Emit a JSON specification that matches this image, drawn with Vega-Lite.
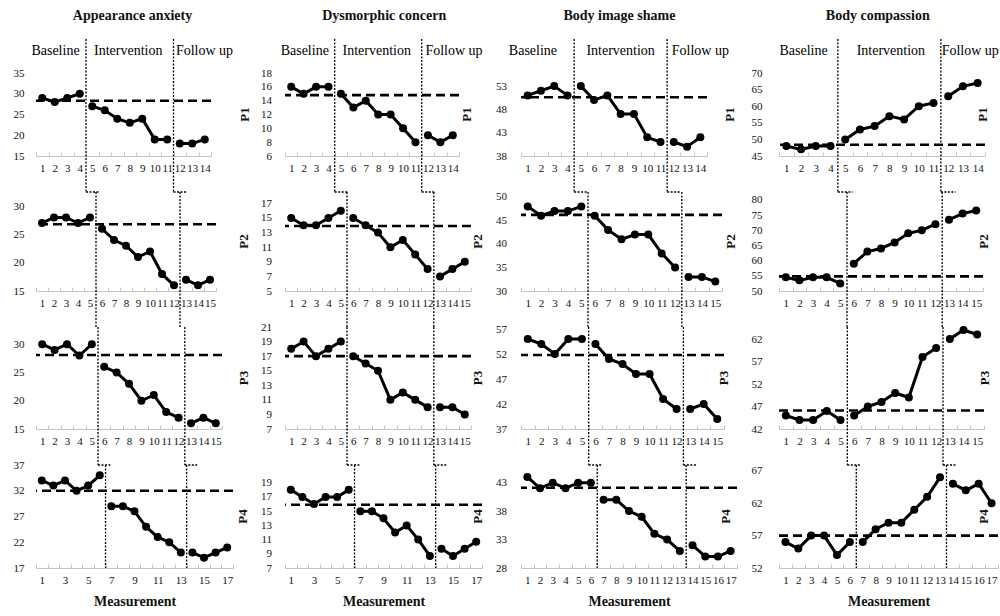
{
"$schema": "https://vega.github.io/schema/vega-lite/v6.json",
"padding": {"left": 13, "top": 9, "right": 0, "bottom": 0},
"datasets": {
"pts": [
{"m":"AA","p":"P1","x":1,"y":29,"ph":"B"},{"m":"AA","p":"P1","x":2,"y":28,"ph":"B"},{"m":"AA","p":"P1","x":3,"y":29,"ph":"B"},{"m":"AA","p":"P1","x":4,"y":30,"ph":"B"},
{"m":"AA","p":"P1","x":5,"y":27,"ph":"I"},{"m":"AA","p":"P1","x":6,"y":26,"ph":"I"},{"m":"AA","p":"P1","x":7,"y":24,"ph":"I"},{"m":"AA","p":"P1","x":8,"y":23,"ph":"I"},{"m":"AA","p":"P1","x":9,"y":24,"ph":"I"},{"m":"AA","p":"P1","x":10,"y":19,"ph":"I"},{"m":"AA","p":"P1","x":11,"y":19,"ph":"I"},
{"m":"AA","p":"P1","x":12,"y":18,"ph":"F"},{"m":"AA","p":"P1","x":13,"y":18,"ph":"F"},{"m":"AA","p":"P1","x":14,"y":19,"ph":"F"},
{"m":"AA","p":"P2","x":1,"y":27,"ph":"B"},{"m":"AA","p":"P2","x":2,"y":28,"ph":"B"},{"m":"AA","p":"P2","x":3,"y":28,"ph":"B"},{"m":"AA","p":"P2","x":4,"y":27,"ph":"B"},{"m":"AA","p":"P2","x":5,"y":28,"ph":"B"},
{"m":"AA","p":"P2","x":6,"y":26,"ph":"I"},{"m":"AA","p":"P2","x":7,"y":24,"ph":"I"},{"m":"AA","p":"P2","x":8,"y":23,"ph":"I"},{"m":"AA","p":"P2","x":9,"y":21,"ph":"I"},{"m":"AA","p":"P2","x":10,"y":22,"ph":"I"},{"m":"AA","p":"P2","x":11,"y":18,"ph":"I"},{"m":"AA","p":"P2","x":12,"y":16,"ph":"I"},
{"m":"AA","p":"P2","x":13,"y":17,"ph":"F"},{"m":"AA","p":"P2","x":14,"y":16,"ph":"F"},{"m":"AA","p":"P2","x":15,"y":17,"ph":"F"},
{"m":"AA","p":"P3","x":1,"y":30,"ph":"B"},{"m":"AA","p":"P3","x":2,"y":29,"ph":"B"},{"m":"AA","p":"P3","x":3,"y":30,"ph":"B"},{"m":"AA","p":"P3","x":4,"y":28,"ph":"B"},{"m":"AA","p":"P3","x":5,"y":30,"ph":"B"},
{"m":"AA","p":"P3","x":6,"y":26,"ph":"I"},{"m":"AA","p":"P3","x":7,"y":25,"ph":"I"},{"m":"AA","p":"P3","x":8,"y":23,"ph":"I"},{"m":"AA","p":"P3","x":9,"y":20,"ph":"I"},{"m":"AA","p":"P3","x":10,"y":21,"ph":"I"},{"m":"AA","p":"P3","x":11,"y":18,"ph":"I"},{"m":"AA","p":"P3","x":12,"y":17,"ph":"I"},
{"m":"AA","p":"P3","x":13,"y":16,"ph":"F"},{"m":"AA","p":"P3","x":14,"y":17,"ph":"F"},{"m":"AA","p":"P3","x":15,"y":16,"ph":"F"},
{"m":"AA","p":"P4","x":1,"y":34,"ph":"B"},{"m":"AA","p":"P4","x":2,"y":33,"ph":"B"},{"m":"AA","p":"P4","x":3,"y":34,"ph":"B"},{"m":"AA","p":"P4","x":4,"y":32,"ph":"B"},{"m":"AA","p":"P4","x":5,"y":33,"ph":"B"},{"m":"AA","p":"P4","x":6,"y":35,"ph":"B"},
{"m":"AA","p":"P4","x":7,"y":29,"ph":"I"},{"m":"AA","p":"P4","x":8,"y":29,"ph":"I"},{"m":"AA","p":"P4","x":9,"y":28,"ph":"I"},{"m":"AA","p":"P4","x":10,"y":25,"ph":"I"},{"m":"AA","p":"P4","x":11,"y":23,"ph":"I"},{"m":"AA","p":"P4","x":12,"y":22,"ph":"I"},{"m":"AA","p":"P4","x":13,"y":20,"ph":"I"},
{"m":"AA","p":"P4","x":14,"y":20,"ph":"F"},{"m":"AA","p":"P4","x":15,"y":19,"ph":"F"},{"m":"AA","p":"P4","x":16,"y":20,"ph":"F"},{"m":"AA","p":"P4","x":17,"y":21,"ph":"F"},
{"m":"DC","p":"P1","x":1,"y":16,"ph":"B"},{"m":"DC","p":"P1","x":2,"y":15,"ph":"B"},{"m":"DC","p":"P1","x":3,"y":16,"ph":"B"},{"m":"DC","p":"P1","x":4,"y":16,"ph":"B"},
{"m":"DC","p":"P1","x":5,"y":15,"ph":"I"},{"m":"DC","p":"P1","x":6,"y":13,"ph":"I"},{"m":"DC","p":"P1","x":7,"y":14,"ph":"I"},{"m":"DC","p":"P1","x":8,"y":12,"ph":"I"},{"m":"DC","p":"P1","x":9,"y":12,"ph":"I"},{"m":"DC","p":"P1","x":10,"y":10,"ph":"I"},{"m":"DC","p":"P1","x":11,"y":8,"ph":"I"},
{"m":"DC","p":"P1","x":12,"y":9,"ph":"F"},{"m":"DC","p":"P1","x":13,"y":8,"ph":"F"},{"m":"DC","p":"P1","x":14,"y":9,"ph":"F"},
{"m":"DC","p":"P2","x":1,"y":15,"ph":"B"},{"m":"DC","p":"P2","x":2,"y":14,"ph":"B"},{"m":"DC","p":"P2","x":3,"y":14,"ph":"B"},{"m":"DC","p":"P2","x":4,"y":15,"ph":"B"},{"m":"DC","p":"P2","x":5,"y":16,"ph":"B"},
{"m":"DC","p":"P2","x":6,"y":15,"ph":"I"},{"m":"DC","p":"P2","x":7,"y":14,"ph":"I"},{"m":"DC","p":"P2","x":8,"y":13,"ph":"I"},{"m":"DC","p":"P2","x":9,"y":11,"ph":"I"},{"m":"DC","p":"P2","x":10,"y":12,"ph":"I"},{"m":"DC","p":"P2","x":11,"y":10,"ph":"I"},{"m":"DC","p":"P2","x":12,"y":8,"ph":"I"},
{"m":"DC","p":"P2","x":13,"y":7,"ph":"F"},{"m":"DC","p":"P2","x":14,"y":8,"ph":"F"},{"m":"DC","p":"P2","x":15,"y":9,"ph":"F"},
{"m":"DC","p":"P3","x":1,"y":18,"ph":"B"},{"m":"DC","p":"P3","x":2,"y":19,"ph":"B"},{"m":"DC","p":"P3","x":3,"y":17,"ph":"B"},{"m":"DC","p":"P3","x":4,"y":18,"ph":"B"},{"m":"DC","p":"P3","x":5,"y":19,"ph":"B"},
{"m":"DC","p":"P3","x":6,"y":17,"ph":"I"},{"m":"DC","p":"P3","x":7,"y":16,"ph":"I"},{"m":"DC","p":"P3","x":8,"y":15,"ph":"I"},{"m":"DC","p":"P3","x":9,"y":11,"ph":"I"},{"m":"DC","p":"P3","x":10,"y":12,"ph":"I"},{"m":"DC","p":"P3","x":11,"y":11,"ph":"I"},{"m":"DC","p":"P3","x":12,"y":10,"ph":"I"},
{"m":"DC","p":"P3","x":13,"y":10,"ph":"F"},{"m":"DC","p":"P3","x":14,"y":10,"ph":"F"},{"m":"DC","p":"P3","x":15,"y":9,"ph":"F"},
{"m":"DC","p":"P4","x":1,"y":18,"ph":"B"},{"m":"DC","p":"P4","x":2,"y":17,"ph":"B"},{"m":"DC","p":"P4","x":3,"y":16,"ph":"B"},{"m":"DC","p":"P4","x":4,"y":17,"ph":"B"},{"m":"DC","p":"P4","x":5,"y":17,"ph":"B"},{"m":"DC","p":"P4","x":6,"y":18,"ph":"B"},
{"m":"DC","p":"P4","x":7,"y":15,"ph":"I"},{"m":"DC","p":"P4","x":8,"y":15,"ph":"I"},{"m":"DC","p":"P4","x":9,"y":14,"ph":"I"},{"m":"DC","p":"P4","x":10,"y":12,"ph":"I"},{"m":"DC","p":"P4","x":11,"y":13,"ph":"I"},{"m":"DC","p":"P4","x":12,"y":11,"ph":"I"},{"m":"DC","p":"P4","x":13,"y":8.7,"ph":"I"},
{"m":"DC","p":"P4","x":14,"y":9.7,"ph":"F"},{"m":"DC","p":"P4","x":15,"y":8.7,"ph":"F"},{"m":"DC","p":"P4","x":16,"y":9.7,"ph":"F"},{"m":"DC","p":"P4","x":17,"y":10.7,"ph":"F"},
{"m":"BS","p":"P1","x":1,"y":51,"ph":"B"},{"m":"BS","p":"P1","x":2,"y":52,"ph":"B"},{"m":"BS","p":"P1","x":3,"y":53,"ph":"B"},{"m":"BS","p":"P1","x":4,"y":51,"ph":"B"},
{"m":"BS","p":"P1","x":5,"y":53,"ph":"I"},{"m":"BS","p":"P1","x":6,"y":50,"ph":"I"},{"m":"BS","p":"P1","x":7,"y":51,"ph":"I"},{"m":"BS","p":"P1","x":8,"y":47,"ph":"I"},{"m":"BS","p":"P1","x":9,"y":47,"ph":"I"},{"m":"BS","p":"P1","x":10,"y":42,"ph":"I"},{"m":"BS","p":"P1","x":11,"y":41,"ph":"I"},
{"m":"BS","p":"P1","x":12,"y":41,"ph":"F"},{"m":"BS","p":"P1","x":13,"y":40,"ph":"F"},{"m":"BS","p":"P1","x":14,"y":42,"ph":"F"},
{"m":"BS","p":"P2","x":1,"y":48,"ph":"B"},{"m":"BS","p":"P2","x":2,"y":46,"ph":"B"},{"m":"BS","p":"P2","x":3,"y":47,"ph":"B"},{"m":"BS","p":"P2","x":4,"y":47,"ph":"B"},{"m":"BS","p":"P2","x":5,"y":48,"ph":"B"},
{"m":"BS","p":"P2","x":6,"y":46,"ph":"I"},{"m":"BS","p":"P2","x":7,"y":43,"ph":"I"},{"m":"BS","p":"P2","x":8,"y":41,"ph":"I"},{"m":"BS","p":"P2","x":9,"y":42,"ph":"I"},{"m":"BS","p":"P2","x":10,"y":42,"ph":"I"},{"m":"BS","p":"P2","x":11,"y":38,"ph":"I"},{"m":"BS","p":"P2","x":12,"y":35,"ph":"I"},
{"m":"BS","p":"P2","x":13,"y":33,"ph":"F"},{"m":"BS","p":"P2","x":14,"y":33,"ph":"F"},{"m":"BS","p":"P2","x":15,"y":32,"ph":"F"},
{"m":"BS","p":"P3","x":1,"y":55,"ph":"B"},{"m":"BS","p":"P3","x":2,"y":54,"ph":"B"},{"m":"BS","p":"P3","x":3,"y":52,"ph":"B"},{"m":"BS","p":"P3","x":4,"y":55,"ph":"B"},{"m":"BS","p":"P3","x":5,"y":55,"ph":"B"},
{"m":"BS","p":"P3","x":6,"y":54,"ph":"I"},{"m":"BS","p":"P3","x":7,"y":51,"ph":"I"},{"m":"BS","p":"P3","x":8,"y":50,"ph":"I"},{"m":"BS","p":"P3","x":9,"y":48,"ph":"I"},{"m":"BS","p":"P3","x":10,"y":48,"ph":"I"},{"m":"BS","p":"P3","x":11,"y":43,"ph":"I"},{"m":"BS","p":"P3","x":12,"y":41,"ph":"I"},
{"m":"BS","p":"P3","x":13,"y":41,"ph":"F"},{"m":"BS","p":"P3","x":14,"y":42,"ph":"F"},{"m":"BS","p":"P3","x":15,"y":39,"ph":"F"},
{"m":"BS","p":"P4","x":1,"y":44,"ph":"B"},{"m":"BS","p":"P4","x":2,"y":42,"ph":"B"},{"m":"BS","p":"P4","x":3,"y":43,"ph":"B"},{"m":"BS","p":"P4","x":4,"y":42,"ph":"B"},{"m":"BS","p":"P4","x":5,"y":43,"ph":"B"},{"m":"BS","p":"P4","x":6,"y":43,"ph":"B"},
{"m":"BS","p":"P4","x":7,"y":40,"ph":"I"},{"m":"BS","p":"P4","x":8,"y":40,"ph":"I"},{"m":"BS","p":"P4","x":9,"y":38,"ph":"I"},{"m":"BS","p":"P4","x":10,"y":37,"ph":"I"},{"m":"BS","p":"P4","x":11,"y":34,"ph":"I"},{"m":"BS","p":"P4","x":12,"y":33,"ph":"I"},{"m":"BS","p":"P4","x":13,"y":31,"ph":"I"},
{"m":"BS","p":"P4","x":14,"y":32,"ph":"F"},{"m":"BS","p":"P4","x":15,"y":30,"ph":"F"},{"m":"BS","p":"P4","x":16,"y":30,"ph":"F"},{"m":"BS","p":"P4","x":17,"y":31,"ph":"F"},
{"m":"BC","p":"P1","x":1,"y":48,"ph":"B"},{"m":"BC","p":"P1","x":2,"y":47,"ph":"B"},{"m":"BC","p":"P1","x":3,"y":48,"ph":"B"},{"m":"BC","p":"P1","x":4,"y":48,"ph":"B"},
{"m":"BC","p":"P1","x":5,"y":50,"ph":"I"},{"m":"BC","p":"P1","x":6,"y":53,"ph":"I"},{"m":"BC","p":"P1","x":7,"y":54,"ph":"I"},{"m":"BC","p":"P1","x":8,"y":57,"ph":"I"},{"m":"BC","p":"P1","x":9,"y":56,"ph":"I"},{"m":"BC","p":"P1","x":10,"y":60,"ph":"I"},{"m":"BC","p":"P1","x":11,"y":61,"ph":"I"},
{"m":"BC","p":"P1","x":12,"y":63,"ph":"F"},{"m":"BC","p":"P1","x":13,"y":66,"ph":"F"},{"m":"BC","p":"P1","x":14,"y":67,"ph":"F"},
{"m":"BC","p":"P2","x":1,"y":54.5,"ph":"B"},{"m":"BC","p":"P2","x":2,"y":53.5,"ph":"B"},{"m":"BC","p":"P2","x":3,"y":54.5,"ph":"B"},{"m":"BC","p":"P2","x":4,"y":54.5,"ph":"B"},{"m":"BC","p":"P2","x":5,"y":52.5,"ph":"B"},
{"m":"BC","p":"P2","x":6,"y":59,"ph":"I"},{"m":"BC","p":"P2","x":7,"y":63,"ph":"I"},{"m":"BC","p":"P2","x":8,"y":64,"ph":"I"},{"m":"BC","p":"P2","x":9,"y":66,"ph":"I"},{"m":"BC","p":"P2","x":10,"y":69,"ph":"I"},{"m":"BC","p":"P2","x":11,"y":70,"ph":"I"},{"m":"BC","p":"P2","x":12,"y":72,"ph":"I"},
{"m":"BC","p":"P2","x":13,"y":73.5,"ph":"F"},{"m":"BC","p":"P2","x":14,"y":75.5,"ph":"F"},{"m":"BC","p":"P2","x":15,"y":76.5,"ph":"F"},
{"m":"BC","p":"P3","x":1,"y":45,"ph":"B"},{"m":"BC","p":"P3","x":2,"y":44,"ph":"B"},{"m":"BC","p":"P3","x":3,"y":44,"ph":"B"},{"m":"BC","p":"P3","x":4,"y":46,"ph":"B"},{"m":"BC","p":"P3","x":5,"y":44,"ph":"B"},
{"m":"BC","p":"P3","x":6,"y":45,"ph":"I"},{"m":"BC","p":"P3","x":7,"y":47,"ph":"I"},{"m":"BC","p":"P3","x":8,"y":48,"ph":"I"},{"m":"BC","p":"P3","x":9,"y":50,"ph":"I"},{"m":"BC","p":"P3","x":10,"y":49,"ph":"I"},{"m":"BC","p":"P3","x":11,"y":58,"ph":"I"},{"m":"BC","p":"P3","x":12,"y":60,"ph":"I"},
{"m":"BC","p":"P3","x":13,"y":62,"ph":"F"},{"m":"BC","p":"P3","x":14,"y":64,"ph":"F"},{"m":"BC","p":"P3","x":15,"y":63,"ph":"F"},
{"m":"BC","p":"P4","x":1,"y":56,"ph":"B"},{"m":"BC","p":"P4","x":2,"y":55,"ph":"B"},{"m":"BC","p":"P4","x":3,"y":57,"ph":"B"},{"m":"BC","p":"P4","x":4,"y":57,"ph":"B"},{"m":"BC","p":"P4","x":5,"y":54,"ph":"B"},{"m":"BC","p":"P4","x":6,"y":56,"ph":"B"},
{"m":"BC","p":"P4","x":7,"y":56,"ph":"I"},{"m":"BC","p":"P4","x":8,"y":58,"ph":"I"},{"m":"BC","p":"P4","x":9,"y":59,"ph":"I"},{"m":"BC","p":"P4","x":10,"y":59,"ph":"I"},{"m":"BC","p":"P4","x":11,"y":61,"ph":"I"},{"m":"BC","p":"P4","x":12,"y":63,"ph":"I"},{"m":"BC","p":"P4","x":13,"y":66,"ph":"I"},
{"m":"BC","p":"P4","x":14,"y":65,"ph":"F"},{"m":"BC","p":"P4","x":15,"y":64,"ph":"F"},{"m":"BC","p":"P4","x":16,"y":65,"ph":"F"},{"m":"BC","p":"P4","x":17,"y":62,"ph":"F"}
],
"base": [
{"m":"AA","p":"P1","y":28.3},{"m":"AA","p":"P2","y":26.8},{"m":"AA","p":"P3","y":28.1},{"m":"AA","p":"P4","y":32},
{"m":"DC","p":"P1","y":14.8},{"m":"DC","p":"P2","y":13.9},{"m":"DC","p":"P3","y":17},{"m":"DC","p":"P4","y":15.9},
{"m":"BS","p":"P1","y":50.6},{"m":"BS","p":"P2","y":46.2},{"m":"BS","p":"P3","y":51.8},{"m":"BS","p":"P4","y":42.1},
{"m":"BC","p":"P1","y":48.4},{"m":"BC","p":"P2","y":54.8},{"m":"BC","p":"P3","y":46.1},{"m":"BC","p":"P4","y":57}
],
"phase": [
{"p":"P1","x":4.5,"xn":5.5},{"p":"P1","x":11.5,"xn":12.5},
{"p":"P2","x":5.5,"xn":5.5},{"p":"P2","x":12.5,"xn":12.5},
{"p":"P3","x":5.5,"xn":6.5},{"p":"P3","x":12.5,"xn":13.5},
{"p":"P4","x":6.5,"xn":6.5},{"p":"P4","x":13.5,"xn":13.5}
],
"lab": [
{"m":"AA","t":"Baseline","x":2.06},{"m":"AA","t":"Intervention","x":7.88},{"m":"AA","t":"Follow up","x":13.98},
{"m":"DC","t":"Baseline","x":2.09},{"m":"DC","t":"Intervention","x":7.88},{"m":"DC","t":"Follow up","x":14.1},
{"m":"BS","t":"Baseline","x":1.4},{"m":"BS","t":"Intervention","x":8.0},{"m":"BS","t":"Follow up","x":14.0},
{"m":"BC","t":"Baseline","x":2.17},{"m":"BC","t":"Intervention","x":8.1},{"m":"BC","t":"Follow up","x":13.5}
]
},
"spacing": 7,
"hconcat": [
{
"title": {"text": "Appearance anxiety", "fontSize": 14, "fontWeight": "bold", "anchor": "middle", "offset": 15},
"spacing": 36, "bounds": "flush",
"vconcat": [
{"width": 175, "height": 83,
"title": {"text": "P1", "orient": "right", "offset": -1, "angle": 270, "baseline": "middle", "frame": "group", "fontSize": 13, "fontWeight": "bold"},
"layer": [
{"data": {"name": "base"}, "transform": [{"filter": "datum.m=='AA' && datum.p=='P1'"}], "mark": {"type": "rule", "color": "black", "strokeWidth": 2.6, "strokeDash": [9,5]}, "encoding": {"y": {"field": "y", "type": "quantitative", "title": null, "axis": {"orient": "left", "values": [15,20,25,30,35], "labelPadding": 12, "labelOverlap": false}}}},
{"data": {"name": "phase"}, "transform": [{"filter": "datum.p=='P1'"}], "mark": {"type": "rule", "color": "black", "strokeWidth": 1.3, "strokeDash": [2,1.5], "yOffset": -34, "y2Offset": 36}, "encoding": {"x": {"field": "x", "type": "quantitative", "title": null, "axis": {"orient": "bottom", "values": [0.5,1.5,2.5,3.5,4.5,5.5,6.5,7.5,8.5,9.5,10.5,11.5,12.5,13.5,14.5], "labelExpr": "datum.value < 14 ? '' + (datum.value + 0.5) : ''", "labelOffset": 6.25, "labelOverlap": false, "labelFlush": false}}, "y": {"datum": 35, "type": "quantitative", "title": null, "axis": {"orient": "left", "values": [15,20,25,30,35], "labelPadding": 12, "labelOverlap": false}}, "y2": {"datum": 15}}},
{"data": {"name": "phase"}, "transform": [{"filter": "datum.p=='P1'"}], "mark": {"type": "rule", "color": "black", "strokeWidth": 1.3, "strokeDash": [2,1.5], "yOffset": 36}, "encoding": {"x": {"field": "x", "type": "quantitative", "title": null, "axis": {"orient": "bottom", "values": [0.5,1.5,2.5,3.5,4.5,5.5,6.5,7.5,8.5,9.5,10.5,11.5,12.5,13.5,14.5], "labelExpr": "datum.value < 14 ? '' + (datum.value + 0.5) : ''", "labelOffset": 6.25, "labelOverlap": false, "labelFlush": false}}, "x2": {"field": "xn"}, "y": {"datum": 15, "type": "quantitative", "title": null, "axis": {"orient": "left", "values": [15,20,25,30,35], "labelPadding": 12, "labelOverlap": false}}}},
{"data": {"name": "pts"}, "transform": [{"filter": "datum.m=='AA' && datum.p=='P1'"}], "mark": {"type": "line", "color": "black", "strokeWidth": 3}, "encoding": {"x": {"field": "x", "type": "quantitative", "title": null, "scale": {"domain": [0.5, 14.5], "nice": false, "zero": false}, "axis": {"orient": "bottom", "values": [0.5,1.5,2.5,3.5,4.5,5.5,6.5,7.5,8.5,9.5,10.5,11.5,12.5,13.5,14.5], "labelExpr": "datum.value < 14 ? '' + (datum.value + 0.5) : ''", "labelOffset": 6.25, "labelOverlap": false, "labelFlush": false}}, "y": {"field": "y", "type": "quantitative", "title": null, "scale": {"domain": [15, 35], "nice": false, "zero": false}, "axis": {"orient": "left", "values": [15,20,25,30,35], "labelPadding": 12, "labelOverlap": false}}, "detail": {"field": "ph"}}},
{"data": {"name": "pts"}, "transform": [{"filter": "datum.m=='AA' && datum.p=='P1'"}], "mark": {"type": "circle", "size": 64, "color": "black", "opacity": 1}, "encoding": {"x": {"field": "x", "type": "quantitative", "title": null, "axis": {"orient": "bottom", "values": [0.5,1.5,2.5,3.5,4.5,5.5,6.5,7.5,8.5,9.5,10.5,11.5,12.5,13.5,14.5], "labelExpr": "datum.value < 14 ? '' + (datum.value + 0.5) : ''", "labelOffset": 6.25, "labelOverlap": false, "labelFlush": false}}, "y": {"field": "y", "type": "quantitative", "title": null, "axis": {"orient": "left", "values": [15,20,25,30,35], "labelPadding": 12, "labelOverlap": false}}}},
{"data": {"name": "lab"}, "transform": [{"filter": "datum.m=='AA'"}], "mark": {"type": "text", "fontSize": 14, "dy": -22, "color": "black"}, "encoding": {"x": {"field": "x", "type": "quantitative", "title": null, "axis": {"orient": "bottom", "values": [0.5,1.5,2.5,3.5,4.5,5.5,6.5,7.5,8.5,9.5,10.5,11.5,12.5,13.5,14.5], "labelExpr": "datum.value < 14 ? '' + (datum.value + 0.5) : ''", "labelOffset": 6.25, "labelOverlap": false, "labelFlush": false}}, "y": {"datum": 35, "type": "quantitative", "title": null, "axis": {"orient": "left", "values": [15,20,25,30,35], "labelPadding": 12, "labelOverlap": false}}, "text": {"field": "t"}}}
]},
{"width": 180, "height": 99,
"title": {"text": "P2", "orient": "right", "offset": 8.5, "angle": 270, "baseline": "middle", "frame": "group", "fontSize": 13, "fontWeight": "bold"},
"layer": [
{"data": {"name": "base"}, "transform": [{"filter": "datum.m=='AA' && datum.p=='P2'"}], "mark": {"type": "rule", "color": "black", "strokeWidth": 2.6, "strokeDash": [9,5]}, "encoding": {"y": {"field": "y", "type": "quantitative", "title": null, "axis": {"orient": "left", "values": [15,20,25,30], "labelPadding": 12, "labelOverlap": false}}}},
{"data": {"name": "phase"}, "transform": [{"filter": "datum.p=='P2'"}], "mark": {"type": "rule", "color": "black", "strokeWidth": 1.3, "strokeDash": [2,1.5], "y2Offset": 36}, "encoding": {"x": {"field": "x", "type": "quantitative", "title": null, "axis": {"orient": "bottom", "values": [0.5,1.5,2.5,3.5,4.5,5.5,6.5,7.5,8.5,9.5,10.5,11.5,12.5,13.5,14.5,15.5], "labelExpr": "datum.value < 15 ? '' + (datum.value + 0.5) : ''", "labelOffset": 6, "labelOverlap": false, "labelFlush": false}}, "y": {"datum": 32.5, "type": "quantitative", "title": null, "axis": {"orient": "left", "values": [15,20,25,30], "labelPadding": 12, "labelOverlap": false}}, "y2": {"datum": 15}}},
{"data": {"name": "phase"}, "transform": [{"filter": "datum.p=='P2'"}], "mark": {"type": "rule", "color": "black", "strokeWidth": 1.3, "strokeDash": [2,1.5], "yOffset": 36}, "encoding": {"x": {"field": "x", "type": "quantitative", "title": null, "axis": {"orient": "bottom", "values": [0.5,1.5,2.5,3.5,4.5,5.5,6.5,7.5,8.5,9.5,10.5,11.5,12.5,13.5,14.5,15.5], "labelExpr": "datum.value < 15 ? '' + (datum.value + 0.5) : ''", "labelOffset": 6, "labelOverlap": false, "labelFlush": false}}, "x2": {"field": "xn"}, "y": {"datum": 15, "type": "quantitative", "title": null, "axis": {"orient": "left", "values": [15,20,25,30], "labelPadding": 12, "labelOverlap": false}}}},
{"data": {"name": "pts"}, "transform": [{"filter": "datum.m=='AA' && datum.p=='P2'"}], "mark": {"type": "line", "color": "black", "strokeWidth": 3}, "encoding": {"x": {"field": "x", "type": "quantitative", "title": null, "scale": {"domain": [0.5, 15.5], "nice": false, "zero": false}, "axis": {"orient": "bottom", "values": [0.5,1.5,2.5,3.5,4.5,5.5,6.5,7.5,8.5,9.5,10.5,11.5,12.5,13.5,14.5,15.5], "labelExpr": "datum.value < 15 ? '' + (datum.value + 0.5) : ''", "labelOffset": 6, "labelOverlap": false, "labelFlush": false}}, "y": {"field": "y", "type": "quantitative", "title": null, "scale": {"domain": [15, 32.5], "nice": false, "zero": false}, "axis": {"orient": "left", "values": [15,20,25,30], "labelPadding": 12, "labelOverlap": false}}, "detail": {"field": "ph"}}},
{"data": {"name": "pts"}, "transform": [{"filter": "datum.m=='AA' && datum.p=='P2'"}], "mark": {"type": "circle", "size": 64, "color": "black", "opacity": 1}, "encoding": {"x": {"field": "x", "type": "quantitative", "title": null, "axis": {"orient": "bottom", "values": [0.5,1.5,2.5,3.5,4.5,5.5,6.5,7.5,8.5,9.5,10.5,11.5,12.5,13.5,14.5,15.5], "labelExpr": "datum.value < 15 ? '' + (datum.value + 0.5) : ''", "labelOffset": 6, "labelOverlap": false, "labelFlush": false}}, "y": {"field": "y", "type": "quantitative", "title": null, "axis": {"orient": "left", "values": [15,20,25,30], "labelPadding": 12, "labelOverlap": false}}}}
]},
{"width": 186, "height": 102,
"title": {"text": "P3", "orient": "right", "offset": 2.5, "angle": 270, "baseline": "middle", "frame": "group", "fontSize": 13, "fontWeight": "bold"},
"layer": [
{"data": {"name": "base"}, "transform": [{"filter": "datum.m=='AA' && datum.p=='P3'"}], "mark": {"type": "rule", "color": "black", "strokeWidth": 2.6, "strokeDash": [9,5]}, "encoding": {"y": {"field": "y", "type": "quantitative", "title": null, "axis": {"orient": "left", "values": [15,20,25,30], "labelPadding": 12, "labelOverlap": false}}}},
{"data": {"name": "phase"}, "transform": [{"filter": "datum.p=='P3'"}], "mark": {"type": "rule", "color": "black", "strokeWidth": 1.3, "strokeDash": [2,1.5], "y2Offset": 36}, "encoding": {"x": {"field": "x", "type": "quantitative", "title": null, "axis": {"orient": "bottom", "values": [0.5,1.5,2.5,3.5,4.5,5.5,6.5,7.5,8.5,9.5,10.5,11.5,12.5,13.5,14.5,15.5], "labelExpr": "datum.value < 15 ? '' + (datum.value + 0.5) : ''", "labelOffset": 6.2, "labelOverlap": false, "labelFlush": false}}, "y": {"datum": 33.05, "type": "quantitative", "title": null, "axis": {"orient": "left", "values": [15,20,25,30], "labelPadding": 12, "labelOverlap": false}}, "y2": {"datum": 15}}},
{"data": {"name": "phase"}, "transform": [{"filter": "datum.p=='P3'"}], "mark": {"type": "rule", "color": "black", "strokeWidth": 1.3, "strokeDash": [2,1.5], "yOffset": 36}, "encoding": {"x": {"field": "x", "type": "quantitative", "title": null, "axis": {"orient": "bottom", "values": [0.5,1.5,2.5,3.5,4.5,5.5,6.5,7.5,8.5,9.5,10.5,11.5,12.5,13.5,14.5,15.5], "labelExpr": "datum.value < 15 ? '' + (datum.value + 0.5) : ''", "labelOffset": 6.2, "labelOverlap": false, "labelFlush": false}}, "x2": {"field": "xn"}, "y": {"datum": 15, "type": "quantitative", "title": null, "axis": {"orient": "left", "values": [15,20,25,30], "labelPadding": 12, "labelOverlap": false}}}},
{"data": {"name": "pts"}, "transform": [{"filter": "datum.m=='AA' && datum.p=='P3'"}], "mark": {"type": "line", "color": "black", "strokeWidth": 3}, "encoding": {"x": {"field": "x", "type": "quantitative", "title": null, "scale": {"domain": [0.5, 15.5], "nice": false, "zero": false}, "axis": {"orient": "bottom", "values": [0.5,1.5,2.5,3.5,4.5,5.5,6.5,7.5,8.5,9.5,10.5,11.5,12.5,13.5,14.5,15.5], "labelExpr": "datum.value < 15 ? '' + (datum.value + 0.5) : ''", "labelOffset": 6.2, "labelOverlap": false, "labelFlush": false}}, "y": {"field": "y", "type": "quantitative", "title": null, "scale": {"domain": [15, 33.05], "nice": false, "zero": false}, "axis": {"orient": "left", "values": [15,20,25,30], "labelPadding": 12, "labelOverlap": false}}, "detail": {"field": "ph"}}},
{"data": {"name": "pts"}, "transform": [{"filter": "datum.m=='AA' && datum.p=='P3'"}], "mark": {"type": "circle", "size": 64, "color": "black", "opacity": 1}, "encoding": {"x": {"field": "x", "type": "quantitative", "title": null, "axis": {"orient": "bottom", "values": [0.5,1.5,2.5,3.5,4.5,5.5,6.5,7.5,8.5,9.5,10.5,11.5,12.5,13.5,14.5,15.5], "labelExpr": "datum.value < 15 ? '' + (datum.value + 0.5) : ''", "labelOffset": 6.2, "labelOverlap": false, "labelFlush": false}}, "y": {"field": "y", "type": "quantitative", "title": null, "axis": {"orient": "left", "values": [15,20,25,30], "labelPadding": 12, "labelOverlap": false}}}}
]},
{"width": 197, "height": 103,
"title": {"text": "P4", "orient": "right", "offset": -8.5, "angle": 270, "baseline": "middle", "frame": "group", "fontSize": 13, "fontWeight": "bold"},
"layer": [
{"data": {"name": "base"}, "transform": [{"filter": "datum.m=='AA' && datum.p=='P4'"}], "mark": {"type": "rule", "color": "black", "strokeWidth": 2.6, "strokeDash": [9,5]}, "encoding": {"y": {"field": "y", "type": "quantitative", "title": null, "axis": {"orient": "left", "values": [17,22,27,32,37], "labelPadding": 12, "labelOverlap": false}}}},
{"data": {"name": "phase"}, "transform": [{"filter": "datum.p=='P4'"}], "mark": {"type": "rule", "color": "black", "strokeWidth": 1.3, "strokeDash": [2,1.5]}, "encoding": {"x": {"field": "x", "type": "quantitative", "title": "Measurement", "axis": {"orient": "bottom", "values": [0.5,1.5,2.5,3.5,4.5,5.5,6.5,7.5,8.5,9.5,10.5,11.5,12.5,13.5,14.5,15.5,16.5,17.5], "labelExpr": "datum.value < 17 && (datum.value + 0.5) % 2 == 1 ? '' + (datum.value + 0.5) : ''", "labelOffset": 5.8, "labelOverlap": false, "labelFlush": false}}, "y": {"datum": 37, "type": "quantitative", "title": null, "axis": {"orient": "left", "values": [17,22,27,32,37], "labelPadding": 12, "labelOverlap": false}}, "y2": {"datum": 17}}},
{"data": {"name": "pts"}, "transform": [{"filter": "datum.m=='AA' && datum.p=='P4'"}], "mark": {"type": "line", "color": "black", "strokeWidth": 3}, "encoding": {"x": {"field": "x", "type": "quantitative", "title": "Measurement", "scale": {"domain": [0.5, 17.5], "nice": false, "zero": false}, "axis": {"orient": "bottom", "values": [0.5,1.5,2.5,3.5,4.5,5.5,6.5,7.5,8.5,9.5,10.5,11.5,12.5,13.5,14.5,15.5,16.5,17.5], "labelExpr": "datum.value < 17 && (datum.value + 0.5) % 2 == 1 ? '' + (datum.value + 0.5) : ''", "labelOffset": 5.8, "labelOverlap": false, "labelFlush": false}}, "y": {"field": "y", "type": "quantitative", "title": null, "scale": {"domain": [17, 37], "nice": false, "zero": false}, "axis": {"orient": "left", "values": [17,22,27,32,37], "labelPadding": 12, "labelOverlap": false}}, "detail": {"field": "ph"}}},
{"data": {"name": "pts"}, "transform": [{"filter": "datum.m=='AA' && datum.p=='P4'"}], "mark": {"type": "circle", "size": 64, "color": "black", "opacity": 1}, "encoding": {"x": {"field": "x", "type": "quantitative", "title": "Measurement", "axis": {"orient": "bottom", "values": [0.5,1.5,2.5,3.5,4.5,5.5,6.5,7.5,8.5,9.5,10.5,11.5,12.5,13.5,14.5,15.5,16.5,17.5], "labelExpr": "datum.value < 17 && (datum.value + 0.5) % 2 == 1 ? '' + (datum.value + 0.5) : ''", "labelOffset": 5.8, "labelOverlap": false, "labelFlush": false}}, "y": {"field": "y", "type": "quantitative", "title": null, "axis": {"orient": "left", "values": [17,22,27,32,37], "labelPadding": 12, "labelOverlap": false}}}}
]}
]
},
{
"title": {"text": "Dysmorphic concern", "fontSize": 14, "fontWeight": "bold", "anchor": "middle", "offset": 15, "dx": 10},
"spacing": 36, "bounds": "flush",
"vconcat": [
{"width": 174, "height": 83,
"title": {"text": "P1", "orient": "right", "offset": -29, "angle": 270, "baseline": "middle", "frame": "group", "fontSize": 13, "fontWeight": "bold"},
"layer": [
{"data": {"name": "base"}, "transform": [{"filter": "datum.m=='DC' && datum.p=='P1'"}], "mark": {"type": "rule", "color": "black", "strokeWidth": 2.6, "strokeDash": [9,5]}, "encoding": {"y": {"field": "y", "type": "quantitative", "title": null, "axis": {"orient": "left", "values": [6,8,10,12,14,16,18], "labelPadding": 13.5, "labelOverlap": false}}}},
{"data": {"name": "phase"}, "transform": [{"filter": "datum.p=='P1'"}], "mark": {"type": "rule", "color": "black", "strokeWidth": 1.3, "strokeDash": [2,1.5], "yOffset": -34, "y2Offset": 36}, "encoding": {"x": {"field": "x", "type": "quantitative", "title": null, "axis": {"orient": "bottom", "values": [0.5,1.5,2.5,3.5,4.5,5.5,6.5,7.5,8.5,9.5,10.5,11.5,12.5,13.5,14.5], "labelExpr": "datum.value < 14 ? '' + (datum.value + 0.5) : ''", "labelOffset": 6.2, "labelOverlap": false, "labelFlush": false}}, "y": {"datum": 18, "type": "quantitative", "title": null, "axis": {"orient": "left", "values": [6,8,10,12,14,16,18], "labelPadding": 13.5, "labelOverlap": false}}, "y2": {"datum": 6}}},
{"data": {"name": "phase"}, "transform": [{"filter": "datum.p=='P1'"}], "mark": {"type": "rule", "color": "black", "strokeWidth": 1.3, "strokeDash": [2,1.5], "yOffset": 36}, "encoding": {"x": {"field": "x", "type": "quantitative", "title": null, "axis": {"orient": "bottom", "values": [0.5,1.5,2.5,3.5,4.5,5.5,6.5,7.5,8.5,9.5,10.5,11.5,12.5,13.5,14.5], "labelExpr": "datum.value < 14 ? '' + (datum.value + 0.5) : ''", "labelOffset": 6.2, "labelOverlap": false, "labelFlush": false}}, "x2": {"field": "xn"}, "y": {"datum": 6, "type": "quantitative", "title": null, "axis": {"orient": "left", "values": [6,8,10,12,14,16,18], "labelPadding": 13.5, "labelOverlap": false}}}},
{"data": {"name": "pts"}, "transform": [{"filter": "datum.m=='DC' && datum.p=='P1'"}], "mark": {"type": "line", "color": "black", "strokeWidth": 3}, "encoding": {"x": {"field": "x", "type": "quantitative", "title": null, "scale": {"domain": [0.5, 14.5], "nice": false, "zero": false}, "axis": {"orient": "bottom", "values": [0.5,1.5,2.5,3.5,4.5,5.5,6.5,7.5,8.5,9.5,10.5,11.5,12.5,13.5,14.5], "labelExpr": "datum.value < 14 ? '' + (datum.value + 0.5) : ''", "labelOffset": 6.2, "labelOverlap": false, "labelFlush": false}}, "y": {"field": "y", "type": "quantitative", "title": null, "scale": {"domain": [6, 18], "nice": false, "zero": false}, "axis": {"orient": "left", "values": [6,8,10,12,14,16,18], "labelPadding": 13.5, "labelOverlap": false}}, "detail": {"field": "ph"}}},
{"data": {"name": "pts"}, "transform": [{"filter": "datum.m=='DC' && datum.p=='P1'"}], "mark": {"type": "circle", "size": 64, "color": "black", "opacity": 1}, "encoding": {"x": {"field": "x", "type": "quantitative", "title": null, "axis": {"orient": "bottom", "values": [0.5,1.5,2.5,3.5,4.5,5.5,6.5,7.5,8.5,9.5,10.5,11.5,12.5,13.5,14.5], "labelExpr": "datum.value < 14 ? '' + (datum.value + 0.5) : ''", "labelOffset": 6.2, "labelOverlap": false, "labelFlush": false}}, "y": {"field": "y", "type": "quantitative", "title": null, "axis": {"orient": "left", "values": [6,8,10,12,14,16,18], "labelPadding": 13.5, "labelOverlap": false}}}},
{"data": {"name": "lab"}, "transform": [{"filter": "datum.m=='DC'"}], "mark": {"type": "text", "fontSize": 14, "dy": -22, "color": "black"}, "encoding": {"x": {"field": "x", "type": "quantitative", "title": null, "axis": {"orient": "bottom", "values": [0.5,1.5,2.5,3.5,4.5,5.5,6.5,7.5,8.5,9.5,10.5,11.5,12.5,13.5,14.5], "labelExpr": "datum.value < 14 ? '' + (datum.value + 0.5) : ''", "labelOffset": 6.2, "labelOverlap": false, "labelFlush": false}}, "y": {"datum": 18, "type": "quantitative", "title": null, "axis": {"orient": "left", "values": [6,8,10,12,14,16,18], "labelPadding": 13.5, "labelOverlap": false}}, "text": {"field": "t"}}}
]},
{"width": 186, "height": 99,
"title": {"text": "P2", "orient": "right", "offset": -12, "angle": 270, "baseline": "middle", "frame": "group", "fontSize": 13, "fontWeight": "bold"},
"layer": [
{"data": {"name": "base"}, "transform": [{"filter": "datum.m=='DC' && datum.p=='P2'"}], "mark": {"type": "rule", "color": "black", "strokeWidth": 2.6, "strokeDash": [9,5]}, "encoding": {"y": {"field": "y", "type": "quantitative", "title": null, "axis": {"orient": "left", "values": [5,7,9,11,13,15,17], "labelPadding": 13.5, "labelOverlap": false}}}},
{"data": {"name": "phase"}, "transform": [{"filter": "datum.p=='P2'"}], "mark": {"type": "rule", "color": "black", "strokeWidth": 1.3, "strokeDash": [2,1.5], "y2Offset": 36}, "encoding": {"x": {"field": "x", "type": "quantitative", "title": null, "axis": {"orient": "bottom", "values": [0.5,1.5,2.5,3.5,4.5,5.5,6.5,7.5,8.5,9.5,10.5,11.5,12.5,13.5,14.5,15.5], "labelExpr": "datum.value < 15 ? '' + (datum.value + 0.5) : ''", "labelOffset": 6.2, "labelOverlap": false, "labelFlush": false}}, "y": {"datum": 18.56, "type": "quantitative", "title": null, "axis": {"orient": "left", "values": [5,7,9,11,13,15,17], "labelPadding": 13.5, "labelOverlap": false}}, "y2": {"datum": 5}}},
{"data": {"name": "phase"}, "transform": [{"filter": "datum.p=='P2'"}], "mark": {"type": "rule", "color": "black", "strokeWidth": 1.3, "strokeDash": [2,1.5], "yOffset": 36}, "encoding": {"x": {"field": "x", "type": "quantitative", "title": null, "axis": {"orient": "bottom", "values": [0.5,1.5,2.5,3.5,4.5,5.5,6.5,7.5,8.5,9.5,10.5,11.5,12.5,13.5,14.5,15.5], "labelExpr": "datum.value < 15 ? '' + (datum.value + 0.5) : ''", "labelOffset": 6.2, "labelOverlap": false, "labelFlush": false}}, "x2": {"field": "xn"}, "y": {"datum": 5, "type": "quantitative", "title": null, "axis": {"orient": "left", "values": [5,7,9,11,13,15,17], "labelPadding": 13.5, "labelOverlap": false}}}},
{"data": {"name": "pts"}, "transform": [{"filter": "datum.m=='DC' && datum.p=='P2'"}], "mark": {"type": "line", "color": "black", "strokeWidth": 3}, "encoding": {"x": {"field": "x", "type": "quantitative", "title": null, "scale": {"domain": [0.5, 15.5], "nice": false, "zero": false}, "axis": {"orient": "bottom", "values": [0.5,1.5,2.5,3.5,4.5,5.5,6.5,7.5,8.5,9.5,10.5,11.5,12.5,13.5,14.5,15.5], "labelExpr": "datum.value < 15 ? '' + (datum.value + 0.5) : ''", "labelOffset": 6.2, "labelOverlap": false, "labelFlush": false}}, "y": {"field": "y", "type": "quantitative", "title": null, "scale": {"domain": [5, 18.56], "nice": false, "zero": false}, "axis": {"orient": "left", "values": [5,7,9,11,13,15,17], "labelPadding": 13.5, "labelOverlap": false}}, "detail": {"field": "ph"}}},
{"data": {"name": "pts"}, "transform": [{"filter": "datum.m=='DC' && datum.p=='P2'"}], "mark": {"type": "circle", "size": 64, "color": "black", "opacity": 1}, "encoding": {"x": {"field": "x", "type": "quantitative", "title": null, "axis": {"orient": "bottom", "values": [0.5,1.5,2.5,3.5,4.5,5.5,6.5,7.5,8.5,9.5,10.5,11.5,12.5,13.5,14.5,15.5], "labelExpr": "datum.value < 15 ? '' + (datum.value + 0.5) : ''", "labelOffset": 6.2, "labelOverlap": false, "labelFlush": false}}, "y": {"field": "y", "type": "quantitative", "title": null, "axis": {"orient": "left", "values": [5,7,9,11,13,15,17], "labelPadding": 13.5, "labelOverlap": false}}}}
]},
{"width": 186, "height": 102,
"title": {"text": "P3", "orient": "right", "offset": -12, "angle": 270, "baseline": "middle", "frame": "group", "fontSize": 13, "fontWeight": "bold"},
"layer": [
{"data": {"name": "base"}, "transform": [{"filter": "datum.m=='DC' && datum.p=='P3'"}], "mark": {"type": "rule", "color": "black", "strokeWidth": 2.6, "strokeDash": [9,5]}, "encoding": {"y": {"field": "y", "type": "quantitative", "title": null, "axis": {"orient": "left", "values": [7,9,11,13,15,17,19,21], "labelPadding": 13.5, "labelOverlap": false}}}},
{"data": {"name": "phase"}, "transform": [{"filter": "datum.p=='P3'"}], "mark": {"type": "rule", "color": "black", "strokeWidth": 1.3, "strokeDash": [2,1.5], "y2Offset": 36}, "encoding": {"x": {"field": "x", "type": "quantitative", "title": null, "axis": {"orient": "bottom", "values": [0.5,1.5,2.5,3.5,4.5,5.5,6.5,7.5,8.5,9.5,10.5,11.5,12.5,13.5,14.5,15.5], "labelExpr": "datum.value < 15 ? '' + (datum.value + 0.5) : ''", "labelOffset": 6.2, "labelOverlap": false, "labelFlush": false}}, "y": {"datum": 21, "type": "quantitative", "title": null, "axis": {"orient": "left", "values": [7,9,11,13,15,17,19,21], "labelPadding": 13.5, "labelOverlap": false}}, "y2": {"datum": 7}}},
{"data": {"name": "phase"}, "transform": [{"filter": "datum.p=='P3'"}], "mark": {"type": "rule", "color": "black", "strokeWidth": 1.3, "strokeDash": [2,1.5], "yOffset": 36}, "encoding": {"x": {"field": "x", "type": "quantitative", "title": null, "axis": {"orient": "bottom", "values": [0.5,1.5,2.5,3.5,4.5,5.5,6.5,7.5,8.5,9.5,10.5,11.5,12.5,13.5,14.5,15.5], "labelExpr": "datum.value < 15 ? '' + (datum.value + 0.5) : ''", "labelOffset": 6.2, "labelOverlap": false, "labelFlush": false}}, "x2": {"field": "xn"}, "y": {"datum": 7, "type": "quantitative", "title": null, "axis": {"orient": "left", "values": [7,9,11,13,15,17,19,21], "labelPadding": 13.5, "labelOverlap": false}}}},
{"data": {"name": "pts"}, "transform": [{"filter": "datum.m=='DC' && datum.p=='P3'"}], "mark": {"type": "line", "color": "black", "strokeWidth": 3}, "encoding": {"x": {"field": "x", "type": "quantitative", "title": null, "scale": {"domain": [0.5, 15.5], "nice": false, "zero": false}, "axis": {"orient": "bottom", "values": [0.5,1.5,2.5,3.5,4.5,5.5,6.5,7.5,8.5,9.5,10.5,11.5,12.5,13.5,14.5,15.5], "labelExpr": "datum.value < 15 ? '' + (datum.value + 0.5) : ''", "labelOffset": 6.2, "labelOverlap": false, "labelFlush": false}}, "y": {"field": "y", "type": "quantitative", "title": null, "scale": {"domain": [7, 21], "nice": false, "zero": false}, "axis": {"orient": "left", "values": [7,9,11,13,15,17,19,21], "labelPadding": 13.5, "labelOverlap": false}}, "detail": {"field": "ph"}}},
{"data": {"name": "pts"}, "transform": [{"filter": "datum.m=='DC' && datum.p=='P3'"}], "mark": {"type": "circle", "size": 64, "color": "black", "opacity": 1}, "encoding": {"x": {"field": "x", "type": "quantitative", "title": null, "axis": {"orient": "bottom", "values": [0.5,1.5,2.5,3.5,4.5,5.5,6.5,7.5,8.5,9.5,10.5,11.5,12.5,13.5,14.5,15.5], "labelExpr": "datum.value < 15 ? '' + (datum.value + 0.5) : ''", "labelOffset": 6.2, "labelOverlap": false, "labelFlush": false}}, "y": {"field": "y", "type": "quantitative", "title": null, "axis": {"orient": "left", "values": [7,9,11,13,15,17,19,21], "labelPadding": 13.5, "labelOverlap": false}}}}
]},
{"width": 197, "height": 103,
"title": {"text": "P4", "orient": "right", "offset": -23, "angle": 270, "baseline": "middle", "frame": "group", "fontSize": 13, "fontWeight": "bold"},
"layer": [
{"data": {"name": "base"}, "transform": [{"filter": "datum.m=='DC' && datum.p=='P4'"}], "mark": {"type": "rule", "color": "black", "strokeWidth": 2.6, "strokeDash": [9,5]}, "encoding": {"y": {"field": "y", "type": "quantitative", "title": null, "axis": {"orient": "left", "values": [7,9,11,13,15,17,19], "labelPadding": 13.5, "labelOverlap": false}}}},
{"data": {"name": "phase"}, "transform": [{"filter": "datum.p=='P4'"}], "mark": {"type": "rule", "color": "black", "strokeWidth": 1.3, "strokeDash": [2,1.5]}, "encoding": {"x": {"field": "x", "type": "quantitative", "title": "Measurement", "axis": {"orient": "bottom", "values": [0.5,1.5,2.5,3.5,4.5,5.5,6.5,7.5,8.5,9.5,10.5,11.5,12.5,13.5,14.5,15.5,16.5,17.5], "labelExpr": "datum.value < 17 && (datum.value + 0.5) % 2 == 1 ? '' + (datum.value + 0.5) : ''", "labelOffset": 5.8, "labelOverlap": false, "labelFlush": false}}, "y": {"datum": 21.5, "type": "quantitative", "title": null, "axis": {"orient": "left", "values": [7,9,11,13,15,17,19], "labelPadding": 13.5, "labelOverlap": false}}, "y2": {"datum": 7}}},
{"data": {"name": "pts"}, "transform": [{"filter": "datum.m=='DC' && datum.p=='P4'"}], "mark": {"type": "line", "color": "black", "strokeWidth": 3}, "encoding": {"x": {"field": "x", "type": "quantitative", "title": "Measurement", "scale": {"domain": [0.5, 17.5], "nice": false, "zero": false}, "axis": {"orient": "bottom", "values": [0.5,1.5,2.5,3.5,4.5,5.5,6.5,7.5,8.5,9.5,10.5,11.5,12.5,13.5,14.5,15.5,16.5,17.5], "labelExpr": "datum.value < 17 && (datum.value + 0.5) % 2 == 1 ? '' + (datum.value + 0.5) : ''", "labelOffset": 5.8, "labelOverlap": false, "labelFlush": false}}, "y": {"field": "y", "type": "quantitative", "title": null, "scale": {"domain": [7, 21.5], "nice": false, "zero": false}, "axis": {"orient": "left", "values": [7,9,11,13,15,17,19], "labelPadding": 13.5, "labelOverlap": false}}, "detail": {"field": "ph"}}},
{"data": {"name": "pts"}, "transform": [{"filter": "datum.m=='DC' && datum.p=='P4'"}], "mark": {"type": "circle", "size": 64, "color": "black", "opacity": 1}, "encoding": {"x": {"field": "x", "type": "quantitative", "title": "Measurement", "axis": {"orient": "bottom", "values": [0.5,1.5,2.5,3.5,4.5,5.5,6.5,7.5,8.5,9.5,10.5,11.5,12.5,13.5,14.5,15.5,16.5,17.5], "labelExpr": "datum.value < 17 && (datum.value + 0.5) % 2 == 1 ? '' + (datum.value + 0.5) : ''", "labelOffset": 5.8, "labelOverlap": false, "labelFlush": false}}, "y": {"field": "y", "type": "quantitative", "title": null, "axis": {"orient": "left", "values": [7,9,11,13,15,17,19], "labelPadding": 13.5, "labelOverlap": false}}}}
]}
]
},
{
"title": {"text": "Body image shame", "fontSize": 14, "fontWeight": "bold", "anchor": "middle", "offset": 15},
"spacing": 36, "bounds": "flush",
"vconcat": [
{"width": 186, "height": 83,
"title": {"text": "P1", "orient": "right", "offset": -11.6, "angle": 270, "baseline": "middle", "frame": "group", "fontSize": 13, "fontWeight": "bold"},
"layer": [
{"data": {"name": "base"}, "transform": [{"filter": "datum.m=='BS' && datum.p=='P1'"}], "mark": {"type": "rule", "color": "black", "strokeWidth": 2.6, "strokeDash": [9,5]}, "encoding": {"y": {"field": "y", "type": "quantitative", "title": null, "axis": {"orient": "left", "values": [38,43,48,53], "labelPadding": 14.5, "labelOverlap": false}}}},
{"data": {"name": "phase"}, "transform": [{"filter": "datum.p=='P1'"}], "mark": {"type": "rule", "color": "black", "strokeWidth": 1.3, "strokeDash": [2,1.5], "yOffset": -34, "y2Offset": 36}, "encoding": {"x": {"field": "x", "type": "quantitative", "title": null, "axis": {"orient": "bottom", "values": [0.5,1.5,2.5,3.5,4.5,5.5,6.5,7.5,8.5,9.5,10.5,11.5,12.5,13.5,14.5], "labelExpr": "datum.value < 14 ? '' + (datum.value + 0.5) : ''", "labelOffset": 6.6, "labelOverlap": false, "labelFlush": false}}, "y": {"datum": 55.8, "type": "quantitative", "title": null, "axis": {"orient": "left", "values": [38,43,48,53], "labelPadding": 14.5, "labelOverlap": false}}, "y2": {"datum": 38}}},
{"data": {"name": "phase"}, "transform": [{"filter": "datum.p=='P1'"}], "mark": {"type": "rule", "color": "black", "strokeWidth": 1.3, "strokeDash": [2,1.5], "yOffset": 36}, "encoding": {"x": {"field": "x", "type": "quantitative", "title": null, "axis": {"orient": "bottom", "values": [0.5,1.5,2.5,3.5,4.5,5.5,6.5,7.5,8.5,9.5,10.5,11.5,12.5,13.5,14.5], "labelExpr": "datum.value < 14 ? '' + (datum.value + 0.5) : ''", "labelOffset": 6.6, "labelOverlap": false, "labelFlush": false}}, "x2": {"field": "xn"}, "y": {"datum": 38, "type": "quantitative", "title": null, "axis": {"orient": "left", "values": [38,43,48,53], "labelPadding": 14.5, "labelOverlap": false}}}},
{"data": {"name": "pts"}, "transform": [{"filter": "datum.m=='BS' && datum.p=='P1'"}], "mark": {"type": "line", "color": "black", "strokeWidth": 3}, "encoding": {"x": {"field": "x", "type": "quantitative", "title": null, "scale": {"domain": [0.5, 14.5], "nice": false, "zero": false}, "axis": {"orient": "bottom", "values": [0.5,1.5,2.5,3.5,4.5,5.5,6.5,7.5,8.5,9.5,10.5,11.5,12.5,13.5,14.5], "labelExpr": "datum.value < 14 ? '' + (datum.value + 0.5) : ''", "labelOffset": 6.6, "labelOverlap": false, "labelFlush": false}}, "y": {"field": "y", "type": "quantitative", "title": null, "scale": {"domain": [38, 55.8], "nice": false, "zero": false}, "axis": {"orient": "left", "values": [38,43,48,53], "labelPadding": 14.5, "labelOverlap": false}}, "detail": {"field": "ph"}}},
{"data": {"name": "pts"}, "transform": [{"filter": "datum.m=='BS' && datum.p=='P1'"}], "mark": {"type": "circle", "size": 64, "color": "black", "opacity": 1}, "encoding": {"x": {"field": "x", "type": "quantitative", "title": null, "axis": {"orient": "bottom", "values": [0.5,1.5,2.5,3.5,4.5,5.5,6.5,7.5,8.5,9.5,10.5,11.5,12.5,13.5,14.5], "labelExpr": "datum.value < 14 ? '' + (datum.value + 0.5) : ''", "labelOffset": 6.6, "labelOverlap": false, "labelFlush": false}}, "y": {"field": "y", "type": "quantitative", "title": null, "axis": {"orient": "left", "values": [38,43,48,53], "labelPadding": 14.5, "labelOverlap": false}}}},
{"data": {"name": "lab"}, "transform": [{"filter": "datum.m=='BS'"}], "mark": {"type": "text", "fontSize": 14, "dy": -22, "color": "black"}, "encoding": {"x": {"field": "x", "type": "quantitative", "title": null, "axis": {"orient": "bottom", "values": [0.5,1.5,2.5,3.5,4.5,5.5,6.5,7.5,8.5,9.5,10.5,11.5,12.5,13.5,14.5], "labelExpr": "datum.value < 14 ? '' + (datum.value + 0.5) : ''", "labelOffset": 6.6, "labelOverlap": false, "labelFlush": false}}, "y": {"datum": 55.8, "type": "quantitative", "title": null, "axis": {"orient": "left", "values": [38,43,48,53], "labelPadding": 14.5, "labelOverlap": false}}, "text": {"field": "t"}}}
]},
{"width": 201, "height": 99,
"title": {"text": "P2", "orient": "right", "offset": -11, "angle": 270, "baseline": "middle", "frame": "group", "fontSize": 13, "fontWeight": "bold"},
"layer": [
{"data": {"name": "base"}, "transform": [{"filter": "datum.m=='BS' && datum.p=='P2'"}], "mark": {"type": "rule", "color": "black", "strokeWidth": 2.6, "strokeDash": [9,5]}, "encoding": {"y": {"field": "y", "type": "quantitative", "title": null, "axis": {"orient": "left", "values": [30,35,40,45,50], "labelPadding": 14.5, "labelOverlap": false}}}},
{"data": {"name": "phase"}, "transform": [{"filter": "datum.p=='P2'"}], "mark": {"type": "rule", "color": "black", "strokeWidth": 1.3, "strokeDash": [2,1.5], "y2Offset": 36}, "encoding": {"x": {"field": "x", "type": "quantitative", "title": null, "axis": {"orient": "bottom", "values": [0.5,1.5,2.5,3.5,4.5,5.5,6.5,7.5,8.5,9.5,10.5,11.5,12.5,13.5,14.5,15.5], "labelExpr": "datum.value < 15 ? '' + (datum.value + 0.5) : ''", "labelOffset": 6.7, "labelOverlap": false, "labelFlush": false}}, "y": {"datum": 51.06, "type": "quantitative", "title": null, "axis": {"orient": "left", "values": [30,35,40,45,50], "labelPadding": 14.5, "labelOverlap": false}}, "y2": {"datum": 30}}},
{"data": {"name": "phase"}, "transform": [{"filter": "datum.p=='P2'"}], "mark": {"type": "rule", "color": "black", "strokeWidth": 1.3, "strokeDash": [2,1.5], "yOffset": 36}, "encoding": {"x": {"field": "x", "type": "quantitative", "title": null, "axis": {"orient": "bottom", "values": [0.5,1.5,2.5,3.5,4.5,5.5,6.5,7.5,8.5,9.5,10.5,11.5,12.5,13.5,14.5,15.5], "labelExpr": "datum.value < 15 ? '' + (datum.value + 0.5) : ''", "labelOffset": 6.7, "labelOverlap": false, "labelFlush": false}}, "x2": {"field": "xn"}, "y": {"datum": 30, "type": "quantitative", "title": null, "axis": {"orient": "left", "values": [30,35,40,45,50], "labelPadding": 14.5, "labelOverlap": false}}}},
{"data": {"name": "pts"}, "transform": [{"filter": "datum.m=='BS' && datum.p=='P2'"}], "mark": {"type": "line", "color": "black", "strokeWidth": 3}, "encoding": {"x": {"field": "x", "type": "quantitative", "title": null, "scale": {"domain": [0.5, 15.5], "nice": false, "zero": false}, "axis": {"orient": "bottom", "values": [0.5,1.5,2.5,3.5,4.5,5.5,6.5,7.5,8.5,9.5,10.5,11.5,12.5,13.5,14.5,15.5], "labelExpr": "datum.value < 15 ? '' + (datum.value + 0.5) : ''", "labelOffset": 6.7, "labelOverlap": false, "labelFlush": false}}, "y": {"field": "y", "type": "quantitative", "title": null, "scale": {"domain": [30, 51.06], "nice": false, "zero": false}, "axis": {"orient": "left", "values": [30,35,40,45,50], "labelPadding": 14.5, "labelOverlap": false}}, "detail": {"field": "ph"}}},
{"data": {"name": "pts"}, "transform": [{"filter": "datum.m=='BS' && datum.p=='P2'"}], "mark": {"type": "circle", "size": 64, "color": "black", "opacity": 1}, "encoding": {"x": {"field": "x", "type": "quantitative", "title": null, "axis": {"orient": "bottom", "values": [0.5,1.5,2.5,3.5,4.5,5.5,6.5,7.5,8.5,9.5,10.5,11.5,12.5,13.5,14.5,15.5], "labelExpr": "datum.value < 15 ? '' + (datum.value + 0.5) : ''", "labelOffset": 6.7, "labelOverlap": false, "labelFlush": false}}, "y": {"field": "y", "type": "quantitative", "title": null, "axis": {"orient": "left", "values": [30,35,40,45,50], "labelPadding": 14.5, "labelOverlap": false}}}}
]},
{"width": 203, "height": 102,
"title": {"text": "P3", "orient": "right", "offset": -20, "angle": 270, "baseline": "middle", "frame": "group", "fontSize": 13, "fontWeight": "bold"},
"layer": [
{"data": {"name": "base"}, "transform": [{"filter": "datum.m=='BS' && datum.p=='P3'"}], "mark": {"type": "rule", "color": "black", "strokeWidth": 2.6, "strokeDash": [9,5]}, "encoding": {"y": {"field": "y", "type": "quantitative", "title": null, "axis": {"orient": "left", "values": [37,42,47,52,57], "labelPadding": 14.5, "labelOverlap": false}}}},
{"data": {"name": "phase"}, "transform": [{"filter": "datum.p=='P3'"}], "mark": {"type": "rule", "color": "black", "strokeWidth": 1.3, "strokeDash": [2,1.5], "y2Offset": 36}, "encoding": {"x": {"field": "x", "type": "quantitative", "title": null, "axis": {"orient": "bottom", "values": [0.5,1.5,2.5,3.5,4.5,5.5,6.5,7.5,8.5,9.5,10.5,11.5,12.5,13.5,14.5,15.5], "labelExpr": "datum.value < 15 ? '' + (datum.value + 0.5) : ''", "labelOffset": 6.75, "labelOverlap": false, "labelFlush": false}}, "y": {"datum": 57.4, "type": "quantitative", "title": null, "axis": {"orient": "left", "values": [37,42,47,52,57], "labelPadding": 14.5, "labelOverlap": false}}, "y2": {"datum": 37}}},
{"data": {"name": "phase"}, "transform": [{"filter": "datum.p=='P3'"}], "mark": {"type": "rule", "color": "black", "strokeWidth": 1.3, "strokeDash": [2,1.5], "yOffset": 36}, "encoding": {"x": {"field": "x", "type": "quantitative", "title": null, "axis": {"orient": "bottom", "values": [0.5,1.5,2.5,3.5,4.5,5.5,6.5,7.5,8.5,9.5,10.5,11.5,12.5,13.5,14.5,15.5], "labelExpr": "datum.value < 15 ? '' + (datum.value + 0.5) : ''", "labelOffset": 6.75, "labelOverlap": false, "labelFlush": false}}, "x2": {"field": "xn"}, "y": {"datum": 37, "type": "quantitative", "title": null, "axis": {"orient": "left", "values": [37,42,47,52,57], "labelPadding": 14.5, "labelOverlap": false}}}},
{"data": {"name": "pts"}, "transform": [{"filter": "datum.m=='BS' && datum.p=='P3'"}], "mark": {"type": "line", "color": "black", "strokeWidth": 3}, "encoding": {"x": {"field": "x", "type": "quantitative", "title": null, "scale": {"domain": [0.5, 15.5], "nice": false, "zero": false}, "axis": {"orient": "bottom", "values": [0.5,1.5,2.5,3.5,4.5,5.5,6.5,7.5,8.5,9.5,10.5,11.5,12.5,13.5,14.5,15.5], "labelExpr": "datum.value < 15 ? '' + (datum.value + 0.5) : ''", "labelOffset": 6.75, "labelOverlap": false, "labelFlush": false}}, "y": {"field": "y", "type": "quantitative", "title": null, "scale": {"domain": [37, 57.4], "nice": false, "zero": false}, "axis": {"orient": "left", "values": [37,42,47,52,57], "labelPadding": 14.5, "labelOverlap": false}}, "detail": {"field": "ph"}}},
{"data": {"name": "pts"}, "transform": [{"filter": "datum.m=='BS' && datum.p=='P3'"}], "mark": {"type": "circle", "size": 64, "color": "black", "opacity": 1}, "encoding": {"x": {"field": "x", "type": "quantitative", "title": null, "axis": {"orient": "bottom", "values": [0.5,1.5,2.5,3.5,4.5,5.5,6.5,7.5,8.5,9.5,10.5,11.5,12.5,13.5,14.5,15.5], "labelExpr": "datum.value < 15 ? '' + (datum.value + 0.5) : ''", "labelOffset": 6.75, "labelOverlap": false, "labelFlush": false}}, "y": {"field": "y", "type": "quantitative", "title": null, "axis": {"orient": "left", "values": [37,42,47,52,57], "labelPadding": 14.5, "labelOverlap": false}}}}
]},
{"width": 216, "height": 103,
"title": {"text": "P4", "orient": "right", "offset": -30, "angle": 270, "baseline": "middle", "frame": "group", "fontSize": 13, "fontWeight": "bold"},
"layer": [
{"data": {"name": "base"}, "transform": [{"filter": "datum.m=='BS' && datum.p=='P4'"}], "mark": {"type": "rule", "color": "black", "strokeWidth": 2.6, "strokeDash": [9,5]}, "encoding": {"y": {"field": "y", "type": "quantitative", "title": null, "axis": {"orient": "left", "values": [28,33,38,43], "labelPadding": 14.5, "labelOverlap": false}}}},
{"data": {"name": "phase"}, "transform": [{"filter": "datum.p=='P4'"}], "mark": {"type": "rule", "color": "black", "strokeWidth": 1.3, "strokeDash": [2,1.5]}, "encoding": {"x": {"field": "x", "type": "quantitative", "title": "Measurement", "axis": {"orient": "bottom", "values": [0.5,1.5,2.5,3.5,4.5,5.5,6.5,7.5,8.5,9.5,10.5,11.5,12.5,13.5,14.5,15.5,16.5,17.5], "labelExpr": "datum.value < 17 ? '' + (datum.value + 0.5) : ''", "labelOffset": 6.35, "labelOverlap": false, "labelFlush": false}}, "y": {"datum": 46.1, "type": "quantitative", "title": null, "axis": {"orient": "left", "values": [28,33,38,43], "labelPadding": 14.5, "labelOverlap": false}}, "y2": {"datum": 28}}},
{"data": {"name": "pts"}, "transform": [{"filter": "datum.m=='BS' && datum.p=='P4'"}], "mark": {"type": "line", "color": "black", "strokeWidth": 3}, "encoding": {"x": {"field": "x", "type": "quantitative", "title": "Measurement", "scale": {"domain": [0.5, 17.5], "nice": false, "zero": false}, "axis": {"orient": "bottom", "values": [0.5,1.5,2.5,3.5,4.5,5.5,6.5,7.5,8.5,9.5,10.5,11.5,12.5,13.5,14.5,15.5,16.5,17.5], "labelExpr": "datum.value < 17 ? '' + (datum.value + 0.5) : ''", "labelOffset": 6.35, "labelOverlap": false, "labelFlush": false}}, "y": {"field": "y", "type": "quantitative", "title": null, "scale": {"domain": [28, 46.1], "nice": false, "zero": false}, "axis": {"orient": "left", "values": [28,33,38,43], "labelPadding": 14.5, "labelOverlap": false}}, "detail": {"field": "ph"}}},
{"data": {"name": "pts"}, "transform": [{"filter": "datum.m=='BS' && datum.p=='P4'"}], "mark": {"type": "circle", "size": 64, "color": "black", "opacity": 1}, "encoding": {"x": {"field": "x", "type": "quantitative", "title": "Measurement", "axis": {"orient": "bottom", "values": [0.5,1.5,2.5,3.5,4.5,5.5,6.5,7.5,8.5,9.5,10.5,11.5,12.5,13.5,14.5,15.5,16.5,17.5], "labelExpr": "datum.value < 17 ? '' + (datum.value + 0.5) : ''", "labelOffset": 6.35, "labelOverlap": false, "labelFlush": false}}, "y": {"field": "y", "type": "quantitative", "title": null, "axis": {"orient": "left", "values": [28,33,38,43], "labelPadding": 14.5, "labelOverlap": false}}}}
]}
]
},
{
"title": {"text": "Body compassion", "fontSize": 14, "fontWeight": "bold", "anchor": "middle", "offset": 15},
"spacing": 36, "bounds": "flush",
"vconcat": [
{"width": 206, "height": 83,
"title": {"text": "P1", "orient": "right", "offset": -28.7, "angle": 270, "baseline": "middle", "frame": "group", "fontSize": 13, "fontWeight": "bold"},
"layer": [
{"data": {"name": "base"}, "transform": [{"filter": "datum.m=='BC' && datum.p=='P1'"}], "mark": {"type": "rule", "color": "black", "strokeWidth": 2.6, "strokeDash": [9,5]}, "encoding": {"y": {"field": "y", "type": "quantitative", "title": null, "axis": {"orient": "left", "values": [45,50,55,60,65,70], "labelPadding": 17, "labelOverlap": false}}}},
{"data": {"name": "phase"}, "transform": [{"filter": "datum.p=='P1'"}], "mark": {"type": "rule", "color": "black", "strokeWidth": 1.3, "strokeDash": [2,1.5], "yOffset": -34, "y2Offset": 36}, "encoding": {"x": {"field": "x", "type": "quantitative", "title": null, "axis": {"orient": "bottom", "values": [0.5,1.5,2.5,3.5,4.5,5.5,6.5,7.5,8.5,9.5,10.5,11.5,12.5,13.5,14.5], "labelExpr": "datum.value < 14 ? '' + (datum.value + 0.5) : ''", "labelOffset": 7.35, "labelOverlap": false, "labelFlush": false}}, "y": {"datum": 70, "type": "quantitative", "title": null, "axis": {"orient": "left", "values": [45,50,55,60,65,70], "labelPadding": 17, "labelOverlap": false}}, "y2": {"datum": 45}}},
{"data": {"name": "phase"}, "transform": [{"filter": "datum.p=='P1'"}], "mark": {"type": "rule", "color": "black", "strokeWidth": 1.3, "strokeDash": [2,1.5], "yOffset": 36}, "encoding": {"x": {"field": "x", "type": "quantitative", "title": null, "axis": {"orient": "bottom", "values": [0.5,1.5,2.5,3.5,4.5,5.5,6.5,7.5,8.5,9.5,10.5,11.5,12.5,13.5,14.5], "labelExpr": "datum.value < 14 ? '' + (datum.value + 0.5) : ''", "labelOffset": 7.35, "labelOverlap": false, "labelFlush": false}}, "x2": {"field": "xn"}, "y": {"datum": 45, "type": "quantitative", "title": null, "axis": {"orient": "left", "values": [45,50,55,60,65,70], "labelPadding": 17, "labelOverlap": false}}}},
{"data": {"name": "pts"}, "transform": [{"filter": "datum.m=='BC' && datum.p=='P1'"}], "mark": {"type": "line", "color": "black", "strokeWidth": 3}, "encoding": {"x": {"field": "x", "type": "quantitative", "title": null, "scale": {"domain": [0.5, 14.5], "nice": false, "zero": false}, "axis": {"orient": "bottom", "values": [0.5,1.5,2.5,3.5,4.5,5.5,6.5,7.5,8.5,9.5,10.5,11.5,12.5,13.5,14.5], "labelExpr": "datum.value < 14 ? '' + (datum.value + 0.5) : ''", "labelOffset": 7.35, "labelOverlap": false, "labelFlush": false}}, "y": {"field": "y", "type": "quantitative", "title": null, "scale": {"domain": [45, 70], "nice": false, "zero": false}, "axis": {"orient": "left", "values": [45,50,55,60,65,70], "labelPadding": 17, "labelOverlap": false}}, "detail": {"field": "ph"}}},
{"data": {"name": "pts"}, "transform": [{"filter": "datum.m=='BC' && datum.p=='P1'"}], "mark": {"type": "circle", "size": 64, "color": "black", "opacity": 1}, "encoding": {"x": {"field": "x", "type": "quantitative", "title": null, "axis": {"orient": "bottom", "values": [0.5,1.5,2.5,3.5,4.5,5.5,6.5,7.5,8.5,9.5,10.5,11.5,12.5,13.5,14.5], "labelExpr": "datum.value < 14 ? '' + (datum.value + 0.5) : ''", "labelOffset": 7.35, "labelOverlap": false, "labelFlush": false}}, "y": {"field": "y", "type": "quantitative", "title": null, "axis": {"orient": "left", "values": [45,50,55,60,65,70], "labelPadding": 17, "labelOverlap": false}}}},
{"data": {"name": "lab"}, "transform": [{"filter": "datum.m=='BC'"}], "mark": {"type": "text", "fontSize": 14, "dy": -22, "color": "black"}, "encoding": {"x": {"field": "x", "type": "quantitative", "title": null, "axis": {"orient": "bottom", "values": [0.5,1.5,2.5,3.5,4.5,5.5,6.5,7.5,8.5,9.5,10.5,11.5,12.5,13.5,14.5], "labelExpr": "datum.value < 14 ? '' + (datum.value + 0.5) : ''", "labelOffset": 7.35, "labelOverlap": false, "labelFlush": false}}, "y": {"datum": 70, "type": "quantitative", "title": null, "axis": {"orient": "left", "values": [45,50,55,60,65,70], "labelPadding": 17, "labelOverlap": false}}, "text": {"field": "t"}}}
]},
{"width": 204, "height": 99,
"title": {"text": "P2", "orient": "right", "offset": -19, "angle": 270, "baseline": "middle", "frame": "group", "fontSize": 13, "fontWeight": "bold"},
"layer": [
{"data": {"name": "base"}, "transform": [{"filter": "datum.m=='BC' && datum.p=='P2'"}], "mark": {"type": "rule", "color": "black", "strokeWidth": 2.6, "strokeDash": [9,5]}, "encoding": {"y": {"field": "y", "type": "quantitative", "title": null, "axis": {"orient": "left", "values": [50,55,60,65,70,75,80], "labelPadding": 17, "labelOverlap": false}}}},
{"data": {"name": "phase"}, "transform": [{"filter": "datum.p=='P2'"}], "mark": {"type": "rule", "color": "black", "strokeWidth": 1.3, "strokeDash": [2,1.5], "y2Offset": 36}, "encoding": {"x": {"field": "x", "type": "quantitative", "title": null, "axis": {"orient": "bottom", "values": [0.5,1.5,2.5,3.5,4.5,5.5,6.5,7.5,8.5,9.5,10.5,11.5,12.5,13.5,14.5,15.5], "labelExpr": "datum.value < 15 ? '' + (datum.value + 0.5) : ''", "labelOffset": 6.8, "labelOverlap": false, "labelFlush": false}}, "y": {"datum": 82.6, "type": "quantitative", "title": null, "axis": {"orient": "left", "values": [50,55,60,65,70,75,80], "labelPadding": 17, "labelOverlap": false}}, "y2": {"datum": 50}}},
{"data": {"name": "phase"}, "transform": [{"filter": "datum.p=='P2'"}], "mark": {"type": "rule", "color": "black", "strokeWidth": 1.3, "strokeDash": [2,1.5], "yOffset": 36}, "encoding": {"x": {"field": "x", "type": "quantitative", "title": null, "axis": {"orient": "bottom", "values": [0.5,1.5,2.5,3.5,4.5,5.5,6.5,7.5,8.5,9.5,10.5,11.5,12.5,13.5,14.5,15.5], "labelExpr": "datum.value < 15 ? '' + (datum.value + 0.5) : ''", "labelOffset": 6.8, "labelOverlap": false, "labelFlush": false}}, "x2": {"field": "xn"}, "y": {"datum": 50, "type": "quantitative", "title": null, "axis": {"orient": "left", "values": [50,55,60,65,70,75,80], "labelPadding": 17, "labelOverlap": false}}}},
{"data": {"name": "pts"}, "transform": [{"filter": "datum.m=='BC' && datum.p=='P2'"}], "mark": {"type": "line", "color": "black", "strokeWidth": 3}, "encoding": {"x": {"field": "x", "type": "quantitative", "title": null, "scale": {"domain": [0.5, 15.5], "nice": false, "zero": false}, "axis": {"orient": "bottom", "values": [0.5,1.5,2.5,3.5,4.5,5.5,6.5,7.5,8.5,9.5,10.5,11.5,12.5,13.5,14.5,15.5], "labelExpr": "datum.value < 15 ? '' + (datum.value + 0.5) : ''", "labelOffset": 6.8, "labelOverlap": false, "labelFlush": false}}, "y": {"field": "y", "type": "quantitative", "title": null, "scale": {"domain": [50, 82.6], "nice": false, "zero": false}, "axis": {"orient": "left", "values": [50,55,60,65,70,75,80], "labelPadding": 17, "labelOverlap": false}}, "detail": {"field": "ph"}}},
{"data": {"name": "pts"}, "transform": [{"filter": "datum.m=='BC' && datum.p=='P2'"}], "mark": {"type": "circle", "size": 64, "color": "black", "opacity": 1}, "encoding": {"x": {"field": "x", "type": "quantitative", "title": null, "axis": {"orient": "bottom", "values": [0.5,1.5,2.5,3.5,4.5,5.5,6.5,7.5,8.5,9.5,10.5,11.5,12.5,13.5,14.5,15.5], "labelExpr": "datum.value < 15 ? '' + (datum.value + 0.5) : ''", "labelOffset": 6.8, "labelOverlap": false, "labelFlush": false}}, "y": {"field": "y", "type": "quantitative", "title": null, "axis": {"orient": "left", "values": [50,55,60,65,70,75,80], "labelPadding": 17, "labelOverlap": false}}}}
]},
{"width": 205, "height": 102,
"title": {"text": "P3", "orient": "right", "offset": -19, "angle": 270, "baseline": "middle", "frame": "group", "fontSize": 13, "fontWeight": "bold"},
"layer": [
{"data": {"name": "base"}, "transform": [{"filter": "datum.m=='BC' && datum.p=='P3'"}], "mark": {"type": "rule", "color": "black", "strokeWidth": 2.6, "strokeDash": [9,5]}, "encoding": {"y": {"field": "y", "type": "quantitative", "title": null, "axis": {"orient": "left", "values": [42,47,52,57,62], "labelPadding": 17, "labelOverlap": false}}}},
{"data": {"name": "phase"}, "transform": [{"filter": "datum.p=='P3'"}], "mark": {"type": "rule", "color": "black", "strokeWidth": 1.3, "strokeDash": [2,1.5], "y2Offset": 36}, "encoding": {"x": {"field": "x", "type": "quantitative", "title": null, "axis": {"orient": "bottom", "values": [0.5,1.5,2.5,3.5,4.5,5.5,6.5,7.5,8.5,9.5,10.5,11.5,12.5,13.5,14.5,15.5], "labelExpr": "datum.value < 15 ? '' + (datum.value + 0.5) : ''", "labelOffset": 6.8, "labelOverlap": false, "labelFlush": false}}, "y": {"datum": 64.67, "type": "quantitative", "title": null, "axis": {"orient": "left", "values": [42,47,52,57,62], "labelPadding": 17, "labelOverlap": false}}, "y2": {"datum": 42}}},
{"data": {"name": "phase"}, "transform": [{"filter": "datum.p=='P3'"}], "mark": {"type": "rule", "color": "black", "strokeWidth": 1.3, "strokeDash": [2,1.5], "yOffset": 36}, "encoding": {"x": {"field": "x", "type": "quantitative", "title": null, "axis": {"orient": "bottom", "values": [0.5,1.5,2.5,3.5,4.5,5.5,6.5,7.5,8.5,9.5,10.5,11.5,12.5,13.5,14.5,15.5], "labelExpr": "datum.value < 15 ? '' + (datum.value + 0.5) : ''", "labelOffset": 6.8, "labelOverlap": false, "labelFlush": false}}, "x2": {"field": "xn"}, "y": {"datum": 42, "type": "quantitative", "title": null, "axis": {"orient": "left", "values": [42,47,52,57,62], "labelPadding": 17, "labelOverlap": false}}}},
{"data": {"name": "pts"}, "transform": [{"filter": "datum.m=='BC' && datum.p=='P3'"}], "mark": {"type": "line", "color": "black", "strokeWidth": 3}, "encoding": {"x": {"field": "x", "type": "quantitative", "title": null, "scale": {"domain": [0.5, 15.5], "nice": false, "zero": false}, "axis": {"orient": "bottom", "values": [0.5,1.5,2.5,3.5,4.5,5.5,6.5,7.5,8.5,9.5,10.5,11.5,12.5,13.5,14.5,15.5], "labelExpr": "datum.value < 15 ? '' + (datum.value + 0.5) : ''", "labelOffset": 6.8, "labelOverlap": false, "labelFlush": false}}, "y": {"field": "y", "type": "quantitative", "title": null, "scale": {"domain": [42, 64.67], "nice": false, "zero": false}, "axis": {"orient": "left", "values": [42,47,52,57,62], "labelPadding": 17, "labelOverlap": false}}, "detail": {"field": "ph"}}},
{"data": {"name": "pts"}, "transform": [{"filter": "datum.m=='BC' && datum.p=='P3'"}], "mark": {"type": "circle", "size": 64, "color": "black", "opacity": 1}, "encoding": {"x": {"field": "x", "type": "quantitative", "title": null, "axis": {"orient": "bottom", "values": [0.5,1.5,2.5,3.5,4.5,5.5,6.5,7.5,8.5,9.5,10.5,11.5,12.5,13.5,14.5,15.5], "labelExpr": "datum.value < 15 ? '' + (datum.value + 0.5) : ''", "labelOffset": 6.8, "labelOverlap": false, "labelFlush": false}}, "y": {"field": "y", "type": "quantitative", "title": null, "axis": {"orient": "left", "values": [42,47,52,57,62], "labelPadding": 17, "labelOverlap": false}}}}
]},
{"width": 219, "height": 103,
"title": {"text": "P4", "orient": "right", "offset": -33, "angle": 270, "baseline": "middle", "frame": "group", "fontSize": 13, "fontWeight": "bold"},
"layer": [
{"data": {"name": "base"}, "transform": [{"filter": "datum.m=='BC' && datum.p=='P4'"}], "mark": {"type": "rule", "color": "black", "strokeWidth": 2.6, "strokeDash": [9,5]}, "encoding": {"y": {"field": "y", "type": "quantitative", "title": null, "axis": {"orient": "left", "values": [52,57,62,67], "labelPadding": 17, "labelOverlap": false}}}},
{"data": {"name": "phase"}, "transform": [{"filter": "datum.p=='P4'"}], "mark": {"type": "rule", "color": "black", "strokeWidth": 1.3, "strokeDash": [2,1.5]}, "encoding": {"x": {"field": "x", "type": "quantitative", "title": "Measurement", "axis": {"orient": "bottom", "values": [0.5,1.5,2.5,3.5,4.5,5.5,6.5,7.5,8.5,9.5,10.5,11.5,12.5,13.5,14.5,15.5,16.5,17.5], "labelExpr": "datum.value < 17 ? '' + (datum.value + 0.5) : ''", "labelOffset": 6.45, "labelOverlap": false, "labelFlush": false}}, "y": {"datum": 67.9, "type": "quantitative", "title": null, "axis": {"orient": "left", "values": [52,57,62,67], "labelPadding": 17, "labelOverlap": false}}, "y2": {"datum": 52}}},
{"data": {"name": "pts"}, "transform": [{"filter": "datum.m=='BC' && datum.p=='P4'"}], "mark": {"type": "line", "color": "black", "strokeWidth": 3}, "encoding": {"x": {"field": "x", "type": "quantitative", "title": "Measurement", "scale": {"domain": [0.5, 17.5], "nice": false, "zero": false}, "axis": {"orient": "bottom", "values": [0.5,1.5,2.5,3.5,4.5,5.5,6.5,7.5,8.5,9.5,10.5,11.5,12.5,13.5,14.5,15.5,16.5,17.5], "labelExpr": "datum.value < 17 ? '' + (datum.value + 0.5) : ''", "labelOffset": 6.45, "labelOverlap": false, "labelFlush": false}}, "y": {"field": "y", "type": "quantitative", "title": null, "scale": {"domain": [52, 67.9], "nice": false, "zero": false}, "axis": {"orient": "left", "values": [52,57,62,67], "labelPadding": 17, "labelOverlap": false}}, "detail": {"field": "ph"}}},
{"data": {"name": "pts"}, "transform": [{"filter": "datum.m=='BC' && datum.p=='P4'"}], "mark": {"type": "circle", "size": 64, "color": "black", "opacity": 1}, "encoding": {"x": {"field": "x", "type": "quantitative", "title": "Measurement", "axis": {"orient": "bottom", "values": [0.5,1.5,2.5,3.5,4.5,5.5,6.5,7.5,8.5,9.5,10.5,11.5,12.5,13.5,14.5,15.5,16.5,17.5], "labelExpr": "datum.value < 17 ? '' + (datum.value + 0.5) : ''", "labelOffset": 6.45, "labelOverlap": false, "labelFlush": false}}, "y": {"field": "y", "type": "quantitative", "title": null, "axis": {"orient": "left", "values": [52,57,62,67], "labelPadding": 17, "labelOverlap": false}}}}
]}
]
}
],
"config": {
"view": {"stroke": null},
"font": "Liberation Serif",
"axis": {"labelFont": "Liberation Serif", "labelFontSize": 11, "labelColor": "#111", "grid": false, "titleFont": "Liberation Serif", "titleFontSize": 14, "titleFontWeight": "bold", "titleColor": "#111"},
"axisX": {"domain": true, "domainColor": "#c4c4c4", "ticks": true, "tickColor": "#c4c4c4", "tickSize": -4, "labelPadding": 10, "labelBound": false, "titlePadding": 9},
"axisY": {"domain": false, "ticks": false},
"title": {"font": "Liberation Serif", "color": "#111"},
"text": {"font": "Liberation Serif"}
}
}
